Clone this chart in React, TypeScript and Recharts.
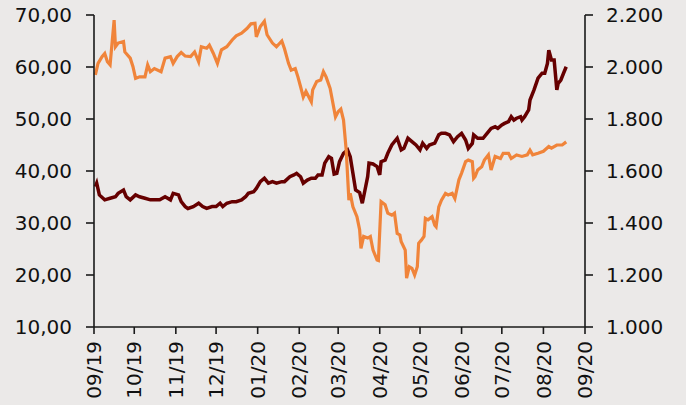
import { LineChart, Line, XAxis, YAxis } from "recharts";

// Brent (left axis, USD/bbl)
const oilDates = [
  "2019-09-02", "2019-09-04", "2019-09-07", "2019-09-09", "2019-09-11", "2019-09-13", "2019-09-16", "2019-09-17",
  "2019-09-19", "2019-09-23", "2019-09-24", "2019-09-28", "2019-09-30", "2019-10-02", "2019-10-05", "2019-10-09",
  "2019-10-11", "2019-10-13", "2019-10-16", "2019-10-21", "2019-10-24", "2019-10-28", "2019-10-30", "2019-11-02",
  "2019-11-05", "2019-11-08", "2019-11-12", "2019-11-15", "2019-11-18", "2019-11-20", "2019-11-24", "2019-11-26",
  "2019-11-29", "2019-12-02", "2019-12-05", "2019-12-09", "2019-12-13", "2019-12-16", "2019-12-20", "2019-12-24",
  "2019-12-27", "2019-12-30", "2019-12-31", "2020-01-03", "2020-01-06", "2020-01-08", "2020-01-12", "2020-01-15",
  "2020-01-19", "2020-01-21", "2020-01-24", "2020-01-26", "2020-01-29", "2020-01-31", "2020-02-02", "2020-02-04",
  "2020-02-06", "2020-02-10", "2020-02-11", "2020-02-14", "2020-02-17", "2020-02-19", "2020-02-21", "2020-02-24",
  "2020-02-28", "2020-03-01", "2020-03-03", "2020-03-05", "2020-03-07", "2020-03-09", "2020-03-10", "2020-03-12",
  "2020-03-15", "2020-03-17", "2020-03-18", "2020-03-20", "2020-03-23", "2020-03-25", "2020-03-27", "2020-03-30",
  "2020-03-31", "2020-04-02", "2020-04-05", "2020-04-07", "2020-04-10", "2020-04-12", "2020-04-14", "2020-04-16",
  "2020-04-17", "2020-04-20", "2020-04-21", "2020-04-23", "2020-04-25", "2020-04-27", "2020-04-29", "2020-04-30",
  "2020-05-02", "2020-05-04", "2020-05-05", "2020-05-07", "2020-05-10", "2020-05-12", "2020-05-13", "2020-05-15",
  "2020-05-17", "2020-05-20", "2020-05-22", "2020-05-25", "2020-05-27", "2020-05-30", "2020-06-01", "2020-06-04",
  "2020-06-06", "2020-06-09", "2020-06-10", "2020-06-11", "2020-06-13", "2020-06-16", "2020-06-18", "2020-06-21",
  "2020-06-23", "2020-06-26", "2020-06-30", "2020-07-02", "2020-07-06", "2020-07-08", "2020-07-12", "2020-07-16",
  "2020-07-20", "2020-07-22", "2020-07-24", "2020-07-28", "2020-08-01", "2020-08-05", "2020-08-07", "2020-08-11",
  "2020-08-15", "2020-08-18",
];
const oilValues = [
  58.5, 60.7, 62.0, 62.6, 61.0, 60.4, 69.0, 63.9,
  64.6, 64.9, 62.9, 61.7, 60.1, 57.8, 58.1, 58.1,
  60.4, 59.1, 59.7, 59.1, 61.7, 62.0, 60.7, 62.0,
  62.8, 62.1, 62.0, 62.9, 61.0, 63.9, 63.6, 64.2,
  62.6, 60.7, 63.3, 63.9, 65.2, 66.0, 66.5, 67.4,
  68.3, 68.4, 65.8, 67.8, 68.8, 66.2, 64.6, 63.9,
  65.0, 63.5, 60.7, 59.4, 59.7, 58.1, 56.2, 54.2,
  55.3, 53.3, 55.6, 57.2, 57.5, 59.1, 58.1, 55.9,
  50.4, 51.4, 51.9, 49.8, 44.0, 34.4, 35.7, 33.1,
  31.2, 28.7, 25.1, 27.4, 27.1, 27.4, 24.8, 22.9,
  22.8, 34.1, 33.5, 31.9, 31.5, 31.9, 28.0, 27.7,
  26.4, 24.8, 19.4, 21.6, 21.3, 20.0, 21.6, 26.1,
  26.7, 27.4, 30.9, 30.6, 31.2, 29.6, 29.3, 33.1,
  34.4, 35.7, 35.4, 35.7, 34.7, 38.3, 39.6, 41.8,
  42.1, 41.8, 38.6, 38.9, 40.2, 40.8, 42.1, 43.1,
  40.2, 42.8, 42.4, 43.4, 43.4, 42.4, 43.1, 42.8,
  43.1, 44.0, 43.1, 43.4, 43.8, 44.7, 44.4, 45.0,
  45.0, 45.6,
];

// Gold (right axis, USD/oz)
const goldDates = [
  "2019-09-02", "2019-09-03", "2019-09-05", "2019-09-09", "2019-09-13", "2019-09-17", "2019-09-19", "2019-09-23",
  "2019-09-25", "2019-09-28", "2019-10-02", "2019-10-05", "2019-10-09", "2019-10-13", "2019-10-16", "2019-10-20",
  "2019-10-24", "2019-10-28", "2019-10-30", "2019-11-03", "2019-11-05", "2019-11-08", "2019-11-10", "2019-11-14",
  "2019-11-18", "2019-11-21", "2019-11-24", "2019-11-28", "2019-12-01", "2019-12-04", "2019-12-06", "2019-12-09",
  "2019-12-13", "2019-12-16", "2019-12-20", "2019-12-23", "2019-12-25", "2019-12-29", "2019-12-31", "2020-01-03",
  "2020-01-06", "2020-01-09", "2020-01-12", "2020-01-15", "2020-01-19", "2020-01-21", "2020-01-25", "2020-01-28",
  "2020-01-30", "2020-02-02", "2020-02-04", "2020-02-07", "2020-02-10", "2020-02-13", "2020-02-15", "2020-02-18",
  "2020-02-20", "2020-02-23", "2020-02-25", "2020-02-27", "2020-02-29", "2020-03-02", "2020-03-05", "2020-03-08",
  "2020-03-10", "2020-03-12", "2020-03-14", "2020-03-17", "2020-03-19", "2020-03-21", "2020-03-23", "2020-03-24",
  "2020-03-27", "2020-03-30", "2020-04-01", "2020-04-02", "2020-04-05", "2020-04-07", "2020-04-10", "2020-04-14",
  "2020-04-17", "2020-04-19", "2020-04-22", "2020-04-25", "2020-04-28", "2020-05-01", "2020-05-03", "2020-05-06",
  "2020-05-08", "2020-05-12", "2020-05-15", "2020-05-17", "2020-05-20", "2020-05-23", "2020-05-26", "2020-05-29",
  "2020-06-01", "2020-06-04", "2020-06-06", "2020-06-09", "2020-06-10", "2020-06-13", "2020-06-17", "2020-06-20",
  "2020-06-23", "2020-06-26", "2020-06-28", "2020-07-01", "2020-07-03", "2020-07-06", "2020-07-08", "2020-07-10",
  "2020-07-12", "2020-07-15", "2020-07-16", "2020-07-18", "2020-07-21", "2020-07-22", "2020-07-25", "2020-07-28",
  "2020-07-31", "2020-08-02", "2020-08-04", "2020-08-05", "2020-08-07", "2020-08-09", "2020-08-11", "2020-08-12",
  "2020-08-14", "2020-08-16", "2020-08-18",
];
const goldValues = [
  1540, 1553, 1508, 1489, 1495, 1501, 1514, 1527,
  1501, 1489, 1508, 1501, 1495, 1489, 1489, 1489,
  1501, 1489, 1514, 1508, 1482, 1463, 1456, 1463,
  1476, 1463, 1456, 1463, 1463, 1476, 1463, 1476,
  1482, 1482, 1489, 1501, 1514, 1520, 1533, 1559,
  1572, 1553, 1559, 1553, 1559, 1559, 1578, 1585,
  1591, 1578, 1553, 1565, 1572, 1572, 1585, 1585,
  1630, 1655, 1649, 1588, 1591, 1636, 1668, 1681,
  1655, 1591, 1527, 1517, 1476, 1527, 1578, 1630,
  1627, 1617, 1585, 1636, 1642, 1668, 1700, 1726,
  1681, 1687, 1726, 1713, 1700, 1681, 1707, 1687,
  1700, 1707, 1739, 1745, 1745, 1739, 1713, 1732,
  1745, 1719, 1687, 1706, 1739, 1726, 1726, 1745,
  1764, 1770, 1764, 1777, 1783, 1790, 1809, 1796,
  1803, 1809, 1796, 1809, 1835, 1873, 1912, 1957,
  1976, 1976, 2014, 2065, 2027, 2027, 1912, 1937,
  1950, 1976, 2001,
];

const monthTicks = [
  "2019-09-01", "2019-10-01", "2019-11-01", "2019-12-01", "2020-01-01", "2020-02-01", "2020-03-01",
  "2020-04-01", "2020-05-01", "2020-06-01", "2020-07-01", "2020-08-01", "2020-09-01",
];
const leftTicks = [10, 20, 30, 40, 50, 60, 70];
const rightTicks = [1000, 1200, 1400, 1600, 1800, 2000, 2200];

const ts = (d: string) => Date.parse(d + "T00:00:00Z");

// merge both series into one table keyed by date
const byDate = new Map<number, { t: number; oil?: number; gold?: number }>();
oilDates.forEach((d, i) => {
  const t = ts(d);
  byDate.set(t, { ...(byDate.get(t) || { t }), oil: oilValues[i] });
});
goldDates.forEach((d, i) => {
  const t = ts(d);
  byDate.set(t, { ...(byDate.get(t) || { t }), gold: goldValues[i] });
});
const data = Array.from(byDate.values()).sort((a, b) => a.t - b.t);

const FONT = "DejaVu Sans";
const AXIS = "#1a1a1a";

const fmtMonth = (t: number) => {
  const d = new Date(t);
  const m = String(d.getUTCMonth() + 1).padStart(2, "0");
  const y = String(d.getUTCFullYear()).slice(2);
  return `${m}/${y}`;
};
const fmtLeft = (v: number) => v.toFixed(2).replace(".", ",");
const fmtRight = (v: number) =>
  `${Math.floor(v / 1000)}.${String(v % 1000).padStart(3, "0")}`;

const MonthTick = (props: any) => {
  const { x, y, payload } = props;
  const ty = y + 5;
  return (
    <text
      x={x}
      y={ty}
      transform={`rotate(-90, ${x}, ${ty})`}
      textAnchor="end"
      dy="0.36em"
      fontSize={20}
      fontFamily={FONT}
      fill="#111"
    >
      {fmtMonth(payload.value)}
    </text>
  );
};

export default function App() {
  return (
    <div
      style={{
        position: "absolute",
        left: 0,
        top: 0,
        width: 686,
        height: 405,
        background: "#ebe9e8",
      }}
    >
      <LineChart
        width={686}
        height={405}
        data={data}
        margin={{ top: 15, right: 0, bottom: 0, left: 0 }}
      >
        <XAxis
          dataKey="t"
          type="number"
          domain={[ts(monthTicks[0]), ts(monthTicks[monthTicks.length - 1])]}
          ticks={monthTicks.map(ts)}
          tick={<MonthTick />}
          height={78}
          tickSize={7}
          stroke={AXIS}
          strokeWidth={1.6}
          tickLine={{ stroke: AXIS, strokeWidth: 1.6 }}
          interval={0}
        />
        <YAxis
          yAxisId="left"
          domain={[10, 70]}
          ticks={leftTicks}
          tickFormatter={fmtLeft}
          width={94}
          tickSize={8}
          tickMargin={14}
          stroke={AXIS}
          strokeWidth={1.6}
          tick={{ fontSize: 20, fontFamily: FONT, fill: "#111" }}
          interval={0}
        />
        <YAxis
          yAxisId="right"
          orientation="right"
          domain={[1000, 2200]}
          ticks={rightTicks}
          tickFormatter={fmtRight}
          width={101}
          tickSize={8}
          tickMargin={13}
          stroke={AXIS}
          strokeWidth={1.6}
          tick={{ fontSize: 20, fontFamily: FONT, fill: "#111", textAnchor: "start" }}
          interval={0}
        />
        <Line
          yAxisId="right"
          dataKey="gold"
          stroke="#660000"
          strokeWidth={3.5}
          dot={false}
          connectNulls
          isAnimationActive={false}
        />
        <Line
          yAxisId="left"
          dataKey="oil"
          stroke="#f0843a"
          strokeWidth={3.2}
          dot={false}
          connectNulls
          isAnimationActive={false}
        />
      </LineChart>
    </div>
  );
}
